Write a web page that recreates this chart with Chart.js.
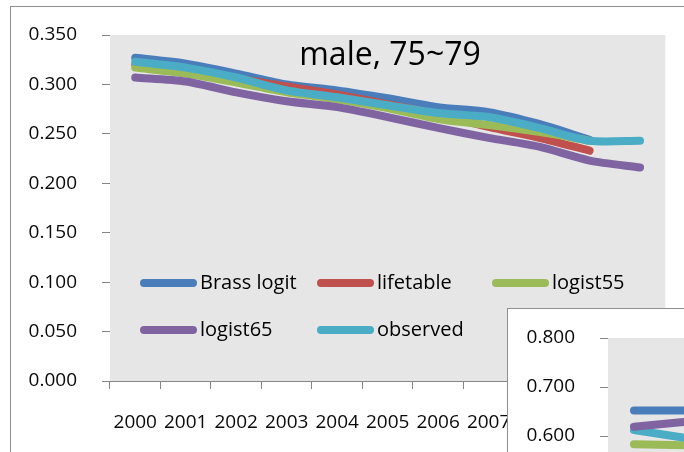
<!DOCTYPE html>
<html>
<head>
<meta charset="utf-8">
<script src="https://cdn.jsdelivr.net/npm/chart.js@4.4.1/dist/chart.umd.min.js"></script>
<style>
html, body { margin: 0; padding: 0; background: #fff; overflow: hidden; }
#wrap { position: relative; width: 684px; height: 452px; overflow: hidden; }
#frame { position: absolute; left: 10px; top: 6px; width: 800px; height: 600px; border: 1px solid #8f8f8f; box-sizing: border-box; }
#main { position: absolute; left: 0; top: 0; }
#inset { position: absolute; left: 507px; top: 308px; width: 700px; height: 500px; border: 1px solid #8f8f8f; background: #fff; }
#inset canvas { position: absolute; left: 0; top: 0; }
</style>
</head>
<body>
<div id="wrap">
  <div id="frame"></div>
  <canvas id="main" width="684" height="452"></canvas>
  <div id="inset"><canvas id="insetChart" width="690" height="480"></canvas></div>
</div>
<script>
// данные основного графика (male, 75~79)
var years = ['2000', '2001', '2002', '2003', '2004', '2005', '2006', '2007', '2008', '2009', '2010'];
var seriesNames = ['Brass logit', 'lifetable', 'logist55', 'logist65', 'observed'];
var seriesColors = ['#4a7ebb', '#c0504d', '#9bbb59', '#8064a2', '#4bacc6'];
var brassLogit = [0.327, 0.321, 0.311, 0.300, 0.294, 0.286, 0.277, 0.272, 0.260, 0.244, null];
var lifetable  = [0.320, 0.314, 0.306, 0.298, 0.290, 0.280, 0.270, 0.257, 0.246, 0.233, null];
var logist55   = [0.317, 0.311, 0.302, 0.292, 0.285, 0.276, 0.265, 0.259, 0.252, 0.243, null];
var logist65   = [0.307, 0.303, 0.292, 0.283, 0.277, 0.267, 0.256, 0.246, 0.237, 0.223, 0.216];
var observed   = [0.323, 0.317, 0.307, 0.294, 0.287, 0.279, 0.271, 0.267, 0.256, 0.243, 0.243];
var yTicksMain = [0, 0.05, 0.10, 0.15, 0.20, 0.25, 0.30, 0.35];

// второй (перекрывающий) график - видно только начало
var insetBrass    = [0.652, 0.652];
var insetLogist65 = [0.619, 0.629];
var insetObserved = [0.612, 0.596];
var insetLogist55 = [0.583, 0.581];
var yTicksInset = [0, 0.1, 0.2, 0.3, 0.4, 0.5, 0.6, 0.7, 0.8];

var tickFont = { family: '"Open Sans"', size: 19 };
var axisColor = '#868686';

function makeLine(label, data, color, order) {
    return {
        label: label,
        data: data,
        borderColor: color,
        backgroundColor: color,
        borderWidth: 8,
        pointRadius: 0,
        tension: 0.25,
        borderCapStyle: 'round',
        borderJoinStyle: 'round',
        fill: false,
        order: order
    };
}

// серый фон области построения
var plotBg = {
    id: 'plotBg',
    beforeDatasetsDraw: function (chart) {
        var a = chart.chartArea, ctx = chart.ctx;
        ctx.save();
        ctx.fillStyle = '#e6e6e6';
        ctx.fillRect(a.left, a.top, a.right - a.left, a.bottom - a.top);
        ctx.restore();
    }
};

// заголовок и легенда внутри области построения
var insideText = {
    id: 'insideText',
    afterDatasetsDraw: function (chart) {
        var ctx = chart.ctx;
        ctx.save();
        ctx.fillStyle = '#000';
        ctx.font = '32px "Open Sans"';
        ctx.textAlign = 'center';
        ctx.textBaseline = 'alphabetic';
        ctx.fillText('male, 75~79', 390, 65);

        var cols = [140, 317, 492], rows = [283, 330];
        ctx.font = '20px "Open Sans"';
        ctx.textAlign = 'left';
        ctx.textBaseline = 'middle';
        ctx.lineCap = 'round';
        ctx.lineWidth = 8;
        chart.data.datasets.forEach(function (ds, i) {
            var x = cols[i % 3], y = rows[Math.floor(i / 3)];
            ctx.strokeStyle = ds.borderColor;
            ctx.beginPath();
            ctx.moveTo(x + 4, y);
            ctx.lineTo(x + 53, y);
            ctx.stroke();
            ctx.fillStyle = '#000';
            ctx.fillText(ds.label, x + 60, y);
        });
        ctx.restore();
    }
};

function axes(yMax, yStep, yTicks, yWidth, xHeight) {
    return {
        x: {
            offset: true,
            grid: { display: true, drawOnChartArea: false, drawTicks: true, tickLength: 8, offset: true, color: axisColor },
            border: { display: true, color: axisColor, width: 1 },
            ticks: { font: tickFont, color: '#0a0a0a', padding: 22, maxRotation: 0, autoSkip: false },
            afterFit: function (scale) { scale.height = xHeight; }
        },
        y: {
            min: 0,
            max: yMax,
            grid: { display: true, drawOnChartArea: false, drawTicks: true, tickLength: 8, color: axisColor },
            border: { display: true, color: axisColor, width: 1 },
            ticks: { font: tickFont, color: '#0a0a0a', padding: 25, stepSize: yStep,
                callback: function (v) { return Number(v).toFixed(3); } },
            afterBuildTicks: function (scale) {
                scale.ticks = yTicks.map(function (v) { return { value: v }; });
            },
            afterFit: function (scale) {
                scale.width = yWidth;
                // отступ подписи не должен сдвигать верх области
                scale.paddingTop = 0;
                scale.paddingBottom = 0;
            }
        }
    };
}

var mainData = [brassLogit, lifetable, logist55, logist65, observed];

new Chart(document.getElementById('main').getContext('2d'), {
    type: 'line',
    data: {
        labels: years,
        datasets: mainData.map(function (d, i) {
            return makeLine(seriesNames[i], d, seriesColors[i], 5 - i);
        })
    },
    options: {
        responsive: false,
        animation: false,
        layout: { padding: { top: 35, right: 5, left: 0, bottom: 0 } },
        plugins: { legend: { display: false }, title: { display: false }, tooltip: { enabled: false } },
        scales: axes(0.35, 0.05, yTicksMain, 110, 71)
    },
    plugins: [plotBg, insideText]
});

new Chart(document.getElementById('insetChart').getContext('2d'), {
    type: 'line',
    data: {
        labels: years,
        datasets: [
            makeLine('Brass logit', insetBrass, seriesColors[0], 4),
            makeLine('logist55', insetLogist55, seriesColors[2], 3),
            makeLine('observed', insetObserved, seriesColors[4], 2),
            makeLine('logist65', insetLogist65, seriesColors[3], 1)
        ]
    },
    options: {
        responsive: false,
        animation: false,
        layout: { padding: { top: 29, right: 18, left: 0, bottom: 0 } },
        plugins: { legend: { display: false }, title: { display: false }, tooltip: { enabled: false } },
        scales: axes(0.8, 0.1, yTicksInset, 100, 59)
    },
    plugins: [plotBg]
});
</script>
</body>
</html>
